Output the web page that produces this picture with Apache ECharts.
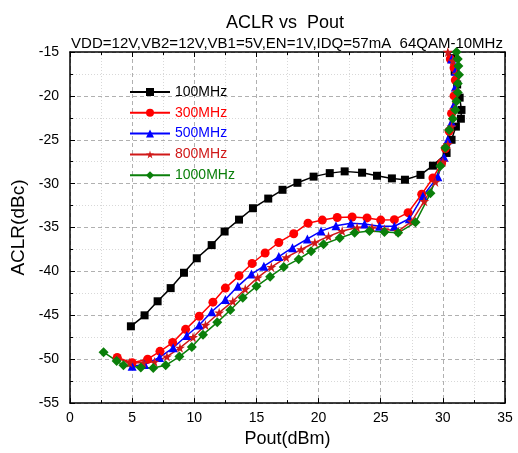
<!DOCTYPE html>
<html>
<head>
<meta charset="utf-8">
<script src="https://cdn.jsdelivr.net/npm/echarts@6/dist/echarts.min.js"></script>
<style>html,body{margin:0;padding:0;background:#fff}#c{width:518px;height:453px}</style>
</head>
<body>
<div id="c"></div>
<script>
const titleText = 'ACLR vs  Pout';
const subText = 'VDD=12V,VB2=12V,VB1=5V,EN=1V,IDQ=57mA  64QAM-10MHz';
const names = ['100MHz','300MHz','500MHz','800MHz','1000MHz'];
const xTicks = [0,5,10,15,20,25,30,35];
const yTicks = [-55,-50,-45,-40,-35,-30,-25,-20,-15];

const s100 = [[4.9,-46.25],[6.0,-45.0],[7.05,-43.4],[8.1,-41.9],[9.17,-40.15],[10.2,-38.5],[11.4,-37.0],[12.44,-35.45],[13.6,-34.1],[14.72,-32.8],[15.95,-31.7],[17.1,-30.7],[18.3,-29.9],[19.6,-29.2],[20.9,-28.8],[22.1,-28.6],[23.5,-28.75],[24.7,-29.1],[25.9,-29.4],[26.95,-29.55],[28.2,-29.0],[29.2,-27.95],[30.3,-26.5],[30.7,-25.0],[31.05,-23.5],[31.45,-22.6],[31.5,-21.6],[31.35,-20.2],[31.15,-18.7],[30.95,-17.2],[30.7,-15.7],[30.4,-14.5]];
const s300 = [[3.8,-49.8],[5.0,-50.4],[6.25,-50.0],[7.24,-49.1],[8.26,-48.1],[9.3,-46.6],[10.4,-45.1],[11.5,-43.5],[12.5,-41.9],[13.6,-40.5],[14.65,-39.1],[15.7,-37.9],[16.8,-36.7],[18.0,-35.7],[19.15,-34.5],[20.3,-34.15],[21.5,-33.85],[22.7,-33.8],[23.9,-33.9],[25.0,-34.15],[26.1,-34.1],[27.2,-33.3],[28.3,-31.2],[29.2,-29.35],[29.9,-27.65],[30.2,-26.0],[30.5,-24.0],[30.7,-22.0],[30.9,-20.0],[31.0,-18.2],[30.9,-16.8],[30.6,-15.8],[30.2,-14.8]];
const s500 = [[5.0,-50.8],[6.0,-50.6],[7.2,-49.8],[8.3,-48.7],[9.4,-47.3],[10.4,-46.1],[11.4,-44.6],[12.5,-43.2],[13.5,-41.7],[14.6,-40.3],[15.6,-39.4],[16.8,-38.3],[17.9,-37.3],[19.1,-36.3],[20.2,-35.4],[21.4,-34.8],[22.6,-34.5],[23.7,-34.6],[24.9,-34.85],[26.1,-34.85],[27.3,-34.0],[28.4,-31.4],[29.6,-29.2],[30.1,-27.0],[30.4,-25.0],[30.7,-23.0],[30.9,-21.0],[31.0,-19.0],[31.0,-17.2],[30.7,-15.8],[30.3,-14.8]];
const s800 = [[3.8,-49.9],[4.8,-50.4],[5.9,-50.4],[6.8,-50.3],[7.8,-49.7],[8.85,-48.7],[9.9,-47.5],[10.9,-46.1],[12.0,-44.7],[13.1,-43.4],[14.1,-42.0],[15.1,-40.7],[16.2,-39.5],[17.4,-38.4],[18.6,-37.5],[19.7,-36.7],[20.8,-36.0],[21.9,-35.4],[23.1,-35.0],[24.3,-35.0],[25.3,-35.2],[26.4,-35.4],[27.5,-34.3],[28.5,-32.0],[29.4,-29.8],[30.0,-27.5],[30.4,-25.5],[30.7,-23.5],[30.9,-21.5],[31.1,-19.5],[31.1,-17.5],[30.8,-16.0],[30.4,-15.0]];
const s1000 = [[2.7,-49.2],[3.75,-50.2],[4.3,-50.7],[5.7,-50.95],[6.7,-51.0],[7.7,-50.7],[8.8,-49.7],[9.8,-48.6],[10.7,-47.2],[11.85,-45.8],[12.9,-44.4],[13.9,-43.0],[15.0,-41.7],[16.1,-40.6],[17.2,-39.5],[18.4,-38.6],[19.4,-37.7],[20.4,-36.9],[21.7,-36.2],[22.9,-35.6],[24.1,-35.4],[25.3,-35.5],[26.4,-35.6],[27.8,-34.4],[29.0,-31.1],[29.8,-28.0],[30.2,-25.9],[30.5,-23.9],[30.8,-22.6],[31.0,-21.6],[31.1,-20.6],[31.2,-19.6],[31.2,-18.6],[31.3,-17.6],[31.25,-16.6],[31.2,-15.8],[31.1,-15.0],[31.0,-14.5]];

const colors = ['#000000','#FF0000','#0000FF','#D01818','#0A7F0A'];
const symbols = ['rect','circle','triangle','path://M50,0 L61,35 L98,35 L68,57 L79,91 L50,70 L21,91 L32,57 L2,35 L39,35 Z','diamond'];
const sizes = [8,9,9,10,10];
const datas = [s100,s300,s500,s800,s1000];

const font = 'Liberation Sans, Arial, sans-serif';
const chart = echarts.init(document.getElementById('c'));

function axisBase(show) {
  return {
    axisLine: {show: true, onZero: false, lineStyle: {color: '#000', width: 1.5}},
    axisTick: {show: true, inside: true, length: 5, lineStyle: {color: '#000', width: 1}},
    minorTick: {show: true, splitNumber: 2, length: 3, lineStyle: {color: '#000', width: 1}},
    axisLabel: {show: show, color: '#000', fontSize: 14, fontFamily: font},
  };
}

const option = {
  animation: false,
  title: [
    {text: titleText, left: 280, top: 9, textAlign: 'center', textStyle: {fontSize: 18, fontWeight: 'normal', color: '#000', fontFamily: font}},
    {text: subText, left: 282, top: 31, textAlign: 'center', textStyle: {fontSize: 15, fontWeight: 'normal', color: '#000', fontFamily: font}}
  ],
  grid: {left: 70, right: 13, top: 52, bottom: 49},
  legend: {
    orient: 'vertical', left: 124, top: 80, itemWidth: 40, itemHeight: 10, itemGap: 6.8,
    data: names.map((n, i) => ({name: n, textStyle: {color: colors[i]}})),
    textStyle: {fontSize: 14, fontFamily: font}
  },
  xAxis: [
    Object.assign(axisBase(true), {
      type: 'value', position: 'bottom', min: 0, max: 35, interval: 5,
      name: 'Pout(dBm)', nameLocation: 'middle', nameGap: 24,
      nameTextStyle: {fontSize: 18, color: '#000', fontFamily: font},
      splitLine: {show: true, lineStyle: {color: '#b0b0b0', type: [4, 3], width: 1}},
      minorSplitLine: {show: true, lineStyle: {color: '#d8d8d8', type: [1, 2], width: 1}},
      axisLabel: {show: true, color: '#000', fontSize: 14, fontFamily: font, margin: 8, formatter: v => xTicks.includes(v) ? String(v) : ''}
    }),
    Object.assign(axisBase(false), {
      type: 'value', position: 'top', min: 0, max: 35, interval: 5, splitLine: {show: false}
    })
  ],
  yAxis: [
    Object.assign(axisBase(true), {
      type: 'value', position: 'left', min: -55, max: -15, interval: 5,
      name: 'ACLR(dBc)', nameLocation: 'middle', nameGap: 37,
      nameTextStyle: {fontSize: 19, color: '#000', fontFamily: font},
      splitLine: {show: true, lineStyle: {color: '#b0b0b0', type: [4, 3], width: 1}},
      minorSplitLine: {show: true, lineStyle: {color: '#d8d8d8', type: [1, 2], width: 1}},
      axisLabel: {show: true, color: '#000', fontSize: 14, fontFamily: font, margin: 11, formatter: v => yTicks.includes(v) ? String(v) : ''}
    }),
    Object.assign(axisBase(false), {
      type: 'value', position: 'right', min: -55, max: -15, interval: 5, splitLine: {show: false}
    })
  ],
  series: names.map((n, i) => ({
    name: n, type: 'line', data: datas[i], xAxisIndex: 0, yAxisIndex: 0,
    symbol: symbols[i], symbolSize: sizes[i], showAllSymbol: true, clip: true,
    lineStyle: {color: colors[i], width: 1.5},
    itemStyle: {color: colors[i], borderWidth: 0}
  }))
};
chart.setOption(option);
</script>
</body>
</html>
